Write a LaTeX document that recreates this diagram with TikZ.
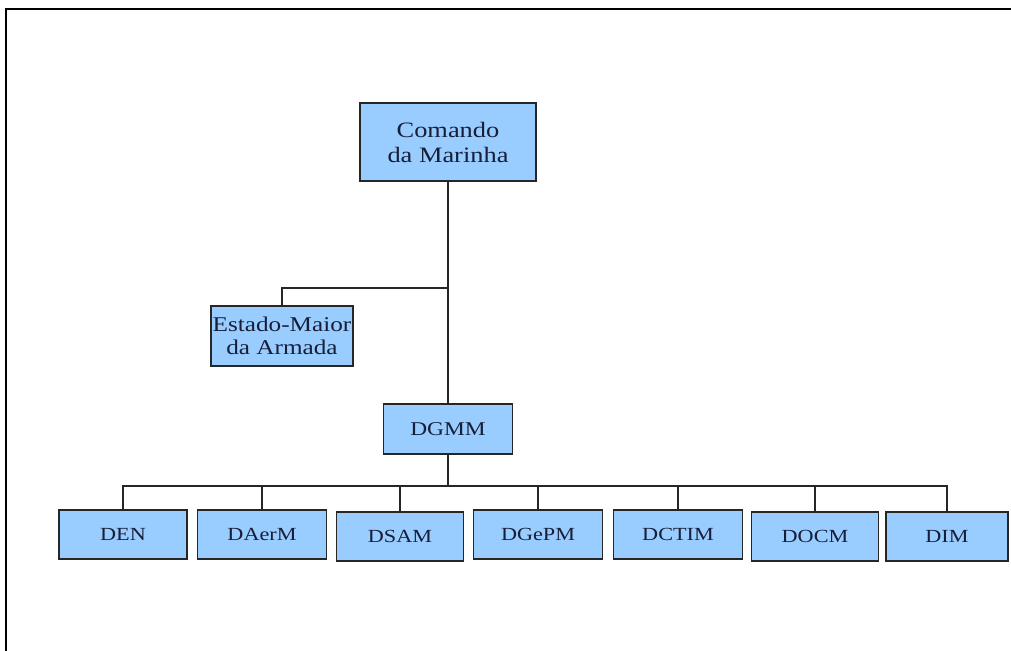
\documentclass[tikz,border=0pt]{standalone}
\usepackage{fontspec}
\setmainfont[FakeStretch=1.2]{Liberation Serif}
\usepackage{tikz}
\usetikzlibrary{positioning}
\definecolor{boxblue}{RGB}{153,204,255}
\definecolor{boxtext}{RGB}{22,30,56}

\begin{document}
\begin{tikzpicture}[x=1pt,y=-1pt,
  unit/.style={rectangle,draw=black!85,line width=1.4pt,fill=boxblue,text=boxtext,inner sep=0pt,align=center,minimum height=49pt,font=\fontsize{18.5}{20}\selectfont},
  link/.style={draw=black!85,line width=1.3pt}]
\useasboundingbox (0,0) rectangle (1011,650);
\draw[line width=2.8pt] (1013,9) -- (6,9) -- (6,652);

\node[unit,minimum width=176pt,minimum height=78pt,font=\fontsize{22}{25}\selectfont] (com) at (448,142) {Comando\\da Marinha};
\node[unit,minimum width=142pt,minimum height=60pt,font=\fontsize{21}{23}\selectfont] (ema) at (282,336) {Estado-Maior\\da Armada};
\node[unit,minimum width=129pt,minimum height=50pt,font=\fontsize{19.5}{21}\selectfont] (dgmm) at (448,429) {DGMM};

\coordinate (j1) at (448,288);
\coordinate (bus) at (448,486);
\draw[link] (com) -- (dgmm);
\draw[link] (ema.north) |- (j1);
\draw[link] (dgmm.south) -- (bus);

\foreach \name/\x/\y/\w in {DEN/123/534.5/128,DAerM/262/534.5/129,DSAM/400/536.5/127,DGePM/538/534.5/129,DCTIM/678/534.5/129,DOCM/815/536.5/127,DIM/947/536.5/122}
{\node[unit,minimum width=\w pt] (\name) at (\x,\y) {\name};
\draw[link] (\name.north) |- (bus);
}

\end{tikzpicture}
\end{document}
